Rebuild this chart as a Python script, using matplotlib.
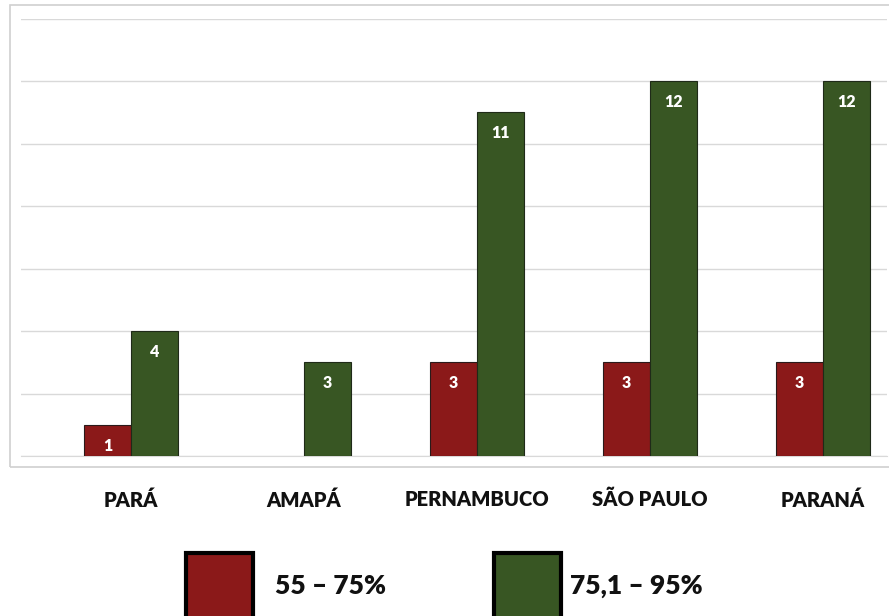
import matplotlib.pyplot as plt
from matplotlib.patches import Rectangle
import numpy as np

plt.rcParams['font.family'] = ['Lato', 'DejaVu Sans']

estados = ['PARÁ', 'AMAPÁ', 'PERNAMBUCO', 'SÃO PAULO', 'PARANÁ']
faixa_55_75 = [1, 0, 3, 3, 3]
faixa_75_95 = [4, 3, 11, 12, 12]
rotulos = ['55 – 75%', '75,1 – 95%']

vermelho = '#8b1919'
verde = '#385623'

W, H = 889, 616
fig = plt.figure(figsize=(W / 100, H / 100), dpi=100)

# moldura cinza da area do grafico
fig.patches.append(Rectangle((10 / W, 1 - 467 / H), 1.0, (467 - 5) / H,
                             transform=fig.transFigure, fill=False,
                             edgecolor='#d0d0d0', linewidth=1.2))

ax = fig.add_axes([21 / W, 1 - 456 / H, (887 - 21) / W, (456 - 18.6) / H])

x = np.arange(len(estados))
w = 0.272
lw1 = [0.8 if v else 0 for v in faixa_55_75]
lw2 = [0.8 if v else 0 for v in faixa_75_95]
b1 = ax.bar(x - w / 2, faixa_55_75, w, color=vermelho, edgecolor='#2a1a1a', linewidth=lw1, zorder=3)
b2 = ax.bar(x + w / 2, faixa_75_95, w, color=verde, edgecolor='#1f2a18', linewidth=lw2, zorder=3)

for barras, vals in [(b1, faixa_55_75), (b2, faixa_75_95)]:
    for r, v in zip(barras, vals):
        if v == 0:
            continue
        ax.annotate(str(v), (r.get_x() + r.get_width() / 2, v),
                    xytext=(0, -15), textcoords='offset points',
                    ha='center', va='center', color='white',
                    fontsize=11.5, fontweight='heavy', zorder=4)

ax.set_ylim(0, 14)
ax.set_xlim(-0.636, 4.37)
ax.set_yticks(np.arange(0, 15, 2))
ax.yaxis.grid(True, color='#d9d9d9', linewidth=1)
ax.set_axisbelow(True)
ax.tick_params(axis='y', left=False, labelleft=False)
ax.tick_params(axis='x', bottom=False, pad=21)
ax.set_xticks(x)
ax.set_xticklabels(estados, fontsize=14.5, fontweight='heavy', color='#111111')
for s in ['top', 'right', 'left']:
    ax.spines[s].set_visible(False)
ax.spines['bottom'].set_color('#d9d9d9')

# legenda manual com quadrados grandes
for x0, cor, texto, xt in [(186, vermelho, rotulos[0], 275), (494, verde, rotulos[1], 570)]:
    fig.patches.append(Rectangle((x0 / W, 1 - 620 / H), 67 / W, 67 / H,
                                 transform=fig.transFigure, facecolor=cor,
                                 edgecolor='black', linewidth=3))
    fig.text(xt / W, 1 - 586 / H, texto, fontsize=19, fontweight='heavy',
             va='center', ha='left', color='#111111')

fig.savefig('out.png', dpi=100)
